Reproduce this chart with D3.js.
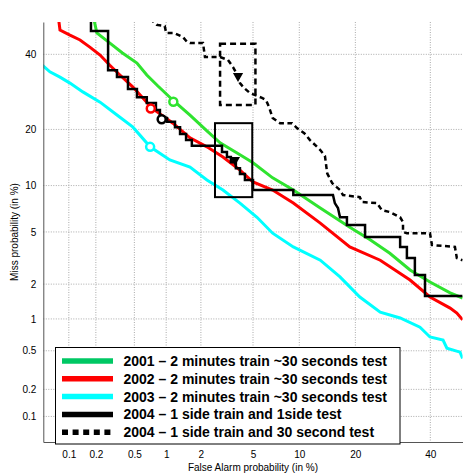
<!DOCTYPE html>
<html>
<head>
<meta charset="utf-8">
<script src="https://cdn.jsdelivr.net/npm/d3@7"></script>
<style>
body { margin: 0; background: #fff; }
svg { display: block; font-family: "Liberation Sans", Arial, sans-serif; }
</style>
</head>
<body>
<svg id="chart" width="463" height="474"></svg>
<script>
// =============================
// DET plot (normal deviate scale on both axes)
// =============================

// Tick labels (in %) for both axes, and the axis range
const tickValues = [0.1, 0.2, 0.5, 1, 2, 5, 10, 20, 40];
const axisRange = [0.05, 50];

// Curves: [false alarm %, miss %]
const curve2001 = [[0.19,51],[0.205,46.6],[0.28,43.5],[0.38,40.4],[0.53,37.4],[0.66,33.9],[0.84,30.8],
	[1.17,26.8],[1.62,23.3],[2.24,19.7],[2.85,17.2],[4.03,14.9],[5.0,13.5],[6.8,11.1],[9.2,9.4],
	[13.2,7.25],[18.8,5.4],[23.4,4.4],[28.4,3.5],[34.0,2.6],[39.9,2.08],[46.1,1.69],[50,1.53]];

const curve2002 = [[0.076,51],[0.079,47.5],[0.103,45.9],[0.134,44.4],[0.172,42.2],[0.222,39.8],[0.28,36.8],
	[0.358,33.9],[0.484,30.5],[0.605,27.6],[0.74,25.0],[1.15,21.4],[1.62,18.2],[2.24,16.4],[3.0,14.5],
	[4.03,12.3],[5.0,10.5],[6.8,9.4],[9.2,7.8],[13.2,5.76],[18.8,3.9],[25.9,3.1],[34.0,2.16],[39.9,1.56],
	[46.1,1.25],[48.2,1.13],[50,0.98]];

const curve2003 = [[0.045,37.5],[0.06,34.8],[0.079,33.3],[0.103,31.6],[0.144,29.2],[0.222,26.5],[0.334,23.3],
	[0.484,20.5],[0.71,16.4],[1.08,14.0],[1.62,12.8],[2.24,10.8],[3.0,9.4],[4.03,7.8],[5.33,6.3],[6.8,4.9],
	[9.2,3.9],[13.2,3.1],[16.8,2.29],[21.0,1.56],[25.9,1.15],[31.2,1.02],[36.9,0.84],[39.9,0.68],
	[43.9,0.635],[45.1,0.53],[49.2,0.485],[50,0.42]];

const curve2004 = [[0.177,51],[0.177,47.2],[0.27,47.2],[0.27,35.3],[0.334,35.3],[0.334,33.3],[0.432,33.3],
	[0.432,30.0],[0.53,30.0],[0.53,27.8],[0.66,27.8],[0.66,26.3],[0.805,26.3],[0.805,24.5],[0.877,24.5],
	[0.877,23.1],[1.02,22.6],[1.02,21.7],[1.2,21.7],[1.2,20.5],[1.33,20.5],[1.33,19.0],[1.5,19.0],
	[1.5,17.75],[1.68,17.75],[1.68,16.6],[2.95,16.6],[2.95,15.4],[3.22,15.4],[3.22,14.5],[3.45,14.5],
	[3.45,13.6],[3.76,13.6],[3.76,12.6],[4.03,12.6],[4.03,11.7],[4.38,11.7],[4.38,10.8],[5.0,10.8],
	[5.0,9.4],[9.2,9.4],[9.2,8.76],[15.45,8.76],[15.8,7.8],[16.4,7.25],[16.8,6.3],[18.2,6.3],[18.2,5.58],
	[22.2,5.58],[22.2,4.6],[31.2,4.6],[31.2,3.9],[33.1,3.9],[33.1,3.22],[35.4,3.22],[35.4,2.37],
	[38.4,2.37],[38.4,1.59],[50,1.59]];

const curve2004b = [[0.71,51],[0.82,49.1],[0.97,48.75],[1.0,46.6],[1.17,46.6],[1.41,45.3],[1.53,43.8],
	[1.62,43.5],[2.08,43.5],[2.16,39.2],[2.85,39.2],[3.28,38.3],[3.58,36.2],[3.9,33.6],[4.03,31.6],
	[4.31,30.3],[4.76,28.9],[5.77,27.6],[6.14,27.05],[6.43,25.3],[6.8,22.6],[7.59,21.4],[9.03,21.4],
	[9.68,20.3],[10.7,19.2],[11.55,17.75],[13.2,15.8],[14.0,14.7],[14.4,11.8],[15.3,10.35],[16.8,9.4],
	[17.4,8.76],[21.0,8.5],[21.5,7.92],[25.1,7.8],[26.3,7.03],[28.4,6.83],[31.2,6.3],[32.0,5.85],
	[32.0,4.99],[33.1,4.9],[39.9,4.9],[40.5,4.03],[47.6,3.9],[48.2,3.22],[50,3.1]];

// Operating points (circles) and confidence boxes / triangles
const circlePoints = [[1.16,26.6],[0.72,24.9],[0.71,16.4],[0.91,22.3]];
const trianglePoints = [[3.7,14.0],[3.9,33.6]];
const boxes = [{fa:[2.6,4.94], miss:[8.5,21.4]}, {fa:[2.85,5.2], miss:[25.8,43.2]}];

const legendLabels = [
	"2001 \u2013 2 minutes train ~30 seconds test",
	"2002 \u2013 2 minutes train ~30 seconds test",
	"2003 \u2013 2 minutes train ~30 seconds test",
	"2004 \u2013 1 side train and 1side test",
	"2004 \u2013 1 side train and 30 second test"];

// Inverse normal CDF (Acklam)
function probit(p) {
	const a = [-3.969683028665376e+01, 2.209460984245205e+02, -2.759285104469687e+02, 1.383577518672690e+02, -3.066479806614716e+01, 2.506628277459239e+00];
	const b = [-5.447609879822406e+01, 1.615858368580409e+02, -1.556989798598866e+02, 6.680131188771972e+01, -1.328068155288572e+01];
	const c = [-7.784894002430293e-03, -3.223964580411365e-01, -2.400758277161838e+00, -2.549732539343734e+00, 4.374664141464968e+00, 2.938163982698783e+00];
	const d = [7.784695709041462e-03, 3.224671290700398e-01, 2.445134137142996e+00, 3.754408661907416e+00];
	const pl = 0.02425;
	let q, r;
	if (p < pl) {
		q = Math.sqrt(-2 * Math.log(p));
		return (((((c[0]*q+c[1])*q+c[2])*q+c[3])*q+c[4])*q+c[5]) / ((((d[0]*q+d[1])*q+d[2])*q+d[3])*q+1);
	}
	if (p <= 1 - pl) {
		q = p - 0.5; r = q * q;
		return (((((a[0]*r+a[1])*r+a[2])*r+a[3])*r+a[4])*r+a[5])*q / (((((b[0]*r+b[1])*r+b[2])*r+b[3])*r+b[4])*r+1);
	}
	q = Math.sqrt(-2 * Math.log(1 - p));
	return -(((((c[0]*q+c[1])*q+c[2])*q+c[3])*q+c[4])*q+c[5]) / ((((d[0]*q+d[1])*q+d[2])*q+d[3])*q+1);
}

const plot = {left: 43.3, right: 462.6, top: 22, bottom: 442};
const svg = d3.select("#chart");

const domain = axisRange.map(v => probit(v / 100));
const x = d3.scaleLinear().domain(domain).range([plot.left, plot.right]);
const y = d3.scaleLinear().domain(domain).range([plot.bottom, plot.top]);
const px = v => x(probit(v / 100));
const py = v => y(probit(v / 100));
const ticks = tickValues.map(t => probit(t / 100));

svg.append("clipPath").attr("id", "clip")
	.append("rect")
	.attr("x", plot.left).attr("y", plot.top)
	.attr("width", plot.right - plot.left).attr("height", plot.bottom - plot.top);

// Grid
const grid = svg.append("g").attr("stroke", "#aaa").attr("stroke-dasharray", "1,1.5");
grid.selectAll(".gx").data(ticks).enter().append("line")
	.attr("x1", d => x(d)).attr("x2", d => x(d))
	.attr("y1", plot.top).attr("y2", plot.bottom);
grid.selectAll(".gy").data(ticks).enter().append("line")
	.attr("y1", d => y(d)).attr("y2", d => y(d))
	.attr("x1", plot.left).attr("x2", plot.right);

// Curves
const line = d3.line().x(d => px(d[0])).y(d => py(d[1]));
const curves = [
	{data: curve2001, color: "#2fe32f", width: 3, dash: null},
	{data: curve2002, color: "#ff0000", width: 3, dash: null},
	{data: curve2003, color: "#00ffff", width: 3, dash: null},
	{data: curve2004, color: "#000", width: 2.5, dash: null},
	{data: curve2004b, color: "#000", width: 2.5, dash: "5,3.5"}];

const curveG = svg.append("g").attr("clip-path", "url(#clip)");
curveG.selectAll("path").data(curves).enter().append("path")
	.attr("d", d => line(d.data))
	.attr("fill", "none")
	.attr("stroke", d => d.color)
	.attr("stroke-width", d => d.width)
	.attr("stroke-dasharray", d => d.dash);

// Confidence boxes
curveG.selectAll("rect.box").data(boxes).enter().append("rect")
	.attr("class", "box")
	.attr("x", d => px(d.fa[0])).attr("width", d => px(d.fa[1]) - px(d.fa[0]))
	.attr("y", d => py(d.miss[1])).attr("height", d => py(d.miss[0]) - py(d.miss[1]))
	.attr("fill", "none").attr("stroke", "#000")
	.attr("stroke-width", (d, i) => i ? 2.5 : 2)
	.attr("stroke-dasharray", (d, i) => i ? "6,4" : null);

// Markers
const circleColors = ["#2fe32f", "#ff0000", "#00ffff", "#000"];
curveG.selectAll("circle").data(circlePoints).enter().append("circle")
	.attr("cx", d => px(d[0])).attr("cy", d => py(d[1]))
	.attr("r", 4)
	.attr("fill", "#fff")
	.attr("stroke", (d, i) => circleColors[i])
	.attr("stroke-width", 2.5);

curveG.selectAll("path.tri").data(trianglePoints).enter().append("path")
	.attr("class", "tri")
	.attr("d", d3.symbol().type(d3.symbolTriangle).size(45))
	.attr("transform", d => `translate(${px(d[0])},${py(d[1])}) rotate(180)`)
	.attr("fill", "#000");

// Axes
const xAxis = svg.append("g")
	.attr("transform", `translate(0,${plot.bottom})`)
	.call(d3.axisBottom(x).tickValues(ticks).tickFormat((d, i) => tickValues[i]).tickSize(0).tickPadding(8.5));
const yAxis = svg.append("g")
	.attr("transform", `translate(${plot.left},0)`)
	.call(d3.axisLeft(y).tickValues(ticks).tickFormat((d, i) => tickValues[i]).tickSize(0).tickPadding(7));

[xAxis, yAxis].forEach(a => {
	a.select(".domain").attr("stroke", "#555");
	a.selectAll("text").style("font-size", "10px").style("font-family", "\"Liberation Sans\", Arial, sans-serif").attr("fill", "#000");
});

svg.append("text")
	.text("False Alarm probability (in %)")
	.attr("x", (plot.left + plot.right) / 2)
	.attr("y", 471)
	.style("text-anchor", "middle")
	.style("font-size", "10px");

svg.append("text")
	.text("Miss probability (in %)")
	.attr("transform", `translate(17.6,${(plot.top + plot.bottom) / 2}) rotate(-90)`)
	.style("text-anchor", "middle")
	.style("font-size", "10px");

// Legend
const legend = svg.append("g");
legend.append("rect")
	.attr("x", 55.5).attr("y", 347.5).attr("width", 344.5).attr("height", 96.5)
	.attr("fill", "#fff").attr("stroke", "#000").attr("stroke-width", 1);

const legendStyles = [
	{color: "#00c864", dash: null},
	{color: "#ff0000", dash: null},
	{color: "#00ffff", dash: null},
	{color: "#000", dash: null},
	{color: "#000", dash: "6,4.6"}];

const items = legend.selectAll(".item").data(legendLabels).enter().append("g")
	.attr("transform", (d, i) => `translate(0,${361 + i * 17.8})`);

items.append("line")
	.attr("x1", 62).attr("x2", 113).attr("y1", 0).attr("y2", 0)
	.attr("stroke", (d, i) => legendStyles[i].color)
	.attr("stroke-width", 5.5)
	.attr("stroke-dasharray", (d, i) => legendStyles[i].dash);

items.append("text")
	.text(d => d)
	.attr("x", 123.5)
	.attr("y", 5)
	.style("font-size", "14px")
	.style("font-weight", "bold");
</script>
</body>
</html>
